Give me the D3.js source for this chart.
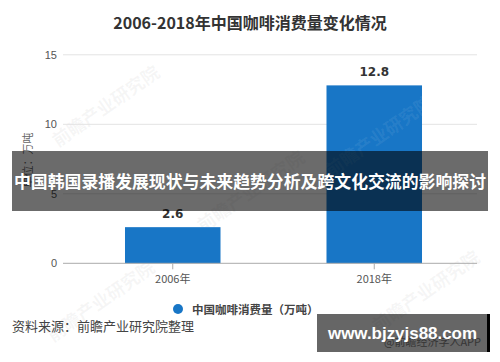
<!DOCTYPE html>
<html>
<head>
<meta charset="utf-8">
<script src="https://cdn.jsdelivr.net/npm/d3@7"></script>
<style>
  html, body { margin: 0; padding: 0; background: #fff; }
  svg { display: block; }
</style>
</head>
<body>
<div id="chart"></div>
<script>
// chart data
const years = ["2006年", "2018年"];
const consumption = [2.6, 12.8];
const yTicks = [0, 5, 10, 15];

const width = 500;
const height = 362;
const cjk = "'Noto Sans CJK SC', 'Noto Sans', sans-serif";

const svg = d3.select("#chart").append("svg")
  .attr("width", width)
  .attr("height", height)
  .style("font-family", cjk);

// scales
const x = d3.scaleBand()
  .domain(years)
  .range([72, 475])
  .paddingInner(0.526)
  .paddingOuter(0.263);

const y = d3.scaleLinear()
  .domain([0, 15])
  .range([263.3, 54.8]);

// faint watermarks (drawn first, under everything)
const marks = [[105, 105], [250, 190], [100, 300], [425, 290]];
svg.append("g")
  .selectAll("text")
  .data(marks)
  .join("text")
  .attr("transform", d => `translate(${d[0]},${d[1]}) rotate(-35)`)
  .attr("text-anchor", "middle")
  .attr("dominant-baseline", "central")
  .attr("font-size", 18)
  .attr("font-weight", "bold")
  .attr("fill", "#999")
  .attr("fill-opacity", 0.09)
  .text("前瞻产业研究院");

// title
svg.append("text")
  .attr("x", 250)
  .attr("y", 22)
  .attr("text-anchor", "middle")
  .attr("dominant-baseline", "central")
  .attr("font-size", 16)
  .attr("font-weight", "bold")
  .attr("fill", "#333")
  .text("2006-2018年中国咖啡消费量变化情况");

// gridlines
svg.append("g")
  .selectAll("line")
  .data(yTicks.filter(d => d > 0))
  .join("line")
  .attr("x1", 63)
  .attr("x2", 477)
  .attr("y1", d => y(d))
  .attr("y2", d => y(d))
  .attr("stroke", "#e3e3e3");

// y tick labels
svg.append("g")
  .selectAll("text")
  .data(yTicks)
  .join("text")
  .attr("x", 57)
  .attr("y", d => y(d))
  .attr("text-anchor", "end")
  .attr("dominant-baseline", "central")
  .attr("font-size", 11)
  .attr("fill", "#555")
  .style("font-family", "'Liberation Sans', Arial, sans-serif")
  .text(d => d);

// y axis title
svg.append("text")
  .attr("transform", "translate(27,160) rotate(-90)")
  .attr("text-anchor", "middle")
  .attr("dominant-baseline", "central")
  .attr("font-size", 11)
  .attr("fill", "#666")
  .text("单位：万吨");

// bars
svg.append("g")
  .selectAll("rect")
  .data(consumption)
  .join("rect")
  .attr("x", (d, i) => x(years[i]))
  .attr("y", d => y(d))
  .attr("width", x.bandwidth())
  .attr("height", d => y(0) - y(d))
  .attr("fill", "#1876c6");

// watermark over the tall bar
svg.append("text")
  .attr("transform", "translate(378,135) rotate(-35)")
  .attr("text-anchor", "middle")
  .attr("dominant-baseline", "central")
  .attr("font-size", 18)
  .attr("font-weight", "bold")
  .attr("fill", "#fff")
  .attr("fill-opacity", 0.08)
  .text("前瞻产业研究院");

// bar value labels
svg.append("g")
  .selectAll("text")
  .data(consumption)
  .join("text")
  .attr("x", (d, i) => x(years[i]) + x.bandwidth() / 2)
  .attr("y", d => y(d) - 13)
  .attr("text-anchor", "middle")
  .attr("dominant-baseline", "central")
  .attr("font-size", 12)
  .attr("font-weight", "bold")
  .attr("fill", "#333")
  .style("font-family", "'DejaVu Sans', sans-serif")
  .text(d => d.toFixed(1));

// x axis
const xAxis = svg.append("g")
  .attr("transform", `translate(0,${y(0)})`);
xAxis.append("line")
  .attr("x1", 63)
  .attr("x2", 477)
  .attr("stroke", "#aaa");
xAxis.selectAll("line.tick")
  .data(years)
  .join("line")
  .attr("class", "tick")
  .attr("x1", d => x(d) + x.bandwidth() / 2)
  .attr("x2", d => x(d) + x.bandwidth() / 2)
  .attr("y1", 0)
  .attr("y2", 6)
  .attr("stroke", "#aaa");
xAxis.selectAll("text")
  .data(years)
  .join("text")
  .attr("x", d => x(d) + x.bandwidth() / 2)
  .attr("y", 15)
  .attr("text-anchor", "middle")
  .attr("dominant-baseline", "central")
  .attr("font-size", 11)
  .attr("fill", "#555")
  .text(d => d);

// legend
svg.append("circle")
  .attr("cx", 178)
  .attr("cy", 309)
  .attr("r", 5)
  .attr("fill", "#1876c6");
svg.append("text")
  .attr("x", 192)
  .attr("y", 309)
  .attr("dominant-baseline", "central")
  .attr("font-size", 11.5)
  .attr("font-weight", "bold")
  .attr("fill", "#444")
  .text("中国咖啡消费量（万吨）");

// source
svg.append("text")
  .attr("x", 12)
  .attr("y", 325)
  .attr("dominant-baseline", "central")
  .attr("font-size", 13)
  .attr("fill", "#444")
  .text("资料来源：前瞻产业研究院整理");

svg.append("text")
  .attr("x", 384)
  .attr("y", 341)
  .attr("dominant-baseline", "central")
  .attr("font-size", 11)
  .attr("fill", "#888")
  .text("@前瞻经济学人APP");

// overlay banner
svg.append("rect")
  .attr("x", 12)
  .attr("y", 151)
  .attr("width", 476)
  .attr("height", 60)
  .attr("fill", "#000")
  .attr("fill-opacity", 0.58);
svg.append("text")
  .attr("x", 14)
  .attr("y", 181)
  .attr("dominant-baseline", "central")
  .attr("font-size", 16.5)
  .attr("font-weight", "bold")
  .attr("fill", "#fff")
  .attr("textLength", 472)
  .attr("lengthAdjust", "spacingAndGlyphs")
  .text("中国韩国录播发展现状与未来趋势分析及跨文化交流的影响探讨");

// site badge
svg.append("rect")
  .attr("x", 317)
  .attr("y", 314)
  .attr("width", 171)
  .attr("height", 38)
  .attr("fill", "#000")
  .attr("fill-opacity", 0.6);
svg.append("rect")
  .attr("x", 487)
  .attr("y", 314)
  .attr("width", 3)
  .attr("height", 38)
  .attr("fill", "#000");
svg.append("text")
  .attr("x", 328)
  .attr("y", 333)
  .attr("dominant-baseline", "central")
  .attr("font-size", 17)
  .attr("font-weight", "bold")
  .attr("fill", "#fff")
  .attr("textLength", 149)
  .attr("lengthAdjust", "spacingAndGlyphs")
  .style("font-family", "'Liberation Sans', Arial, sans-serif")
  .text("www.bjzyjs88.com");
</script>
</body>
</html>
